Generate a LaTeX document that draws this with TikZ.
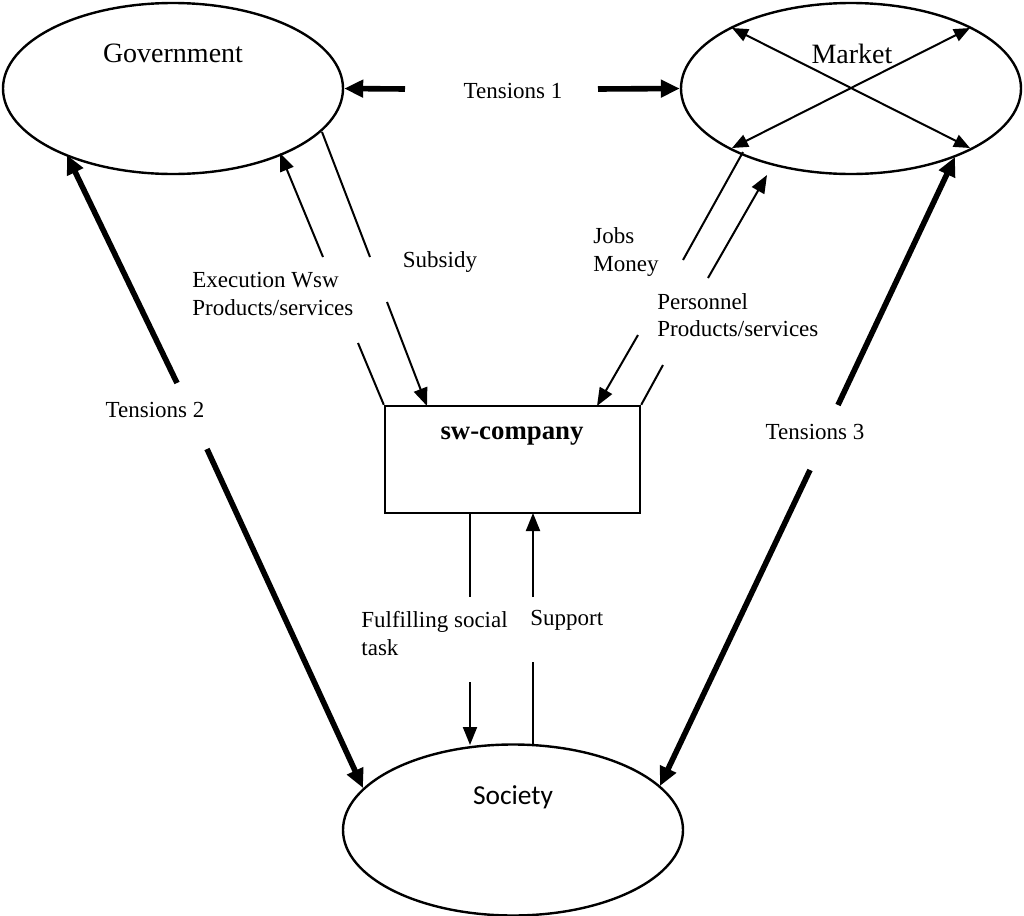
\documentclass[tikz,border=0pt]{standalone}
\usepackage{fontspec}
\setmainfont{Liberation Serif}
\newfontfamily\calibrifont{Carlito}
\usetikzlibrary{shapes.geometric, arrows.meta}
\begin{document}
\begin{tikzpicture}[x=0.5pt,y=-0.5pt,
  ovalbox/.style={ellipse, draw, line width=1.2pt, minimum width=170pt, minimum height=85.5pt, inner sep=0pt},
  flowline/.style={line width=1pt},
  flowarr/.style={flowline, -{Triangle[length=9pt,width=7pt]}},
  crossarr/.style={flowline, {Triangle[length=8pt,width=6.5pt]}-{Triangle[length=8pt,width=6.5pt]}},
  tensarr/.style={line width=2.8pt, -{Triangle[length=9.5pt,width=8.5pt]}},
  lbltext/.style={font=\fontsize{11.5}{13.6}\selectfont, inner sep=0pt, align=left},
  ttltext/.style={font=\fontsize{14}{16}\selectfont, inner sep=0pt}
]
\useasboundingbox (0,0) rectangle (1024,916);

% main nodes
\node[ovalbox] (gov) at (173,88.5) {};
\node[ovalbox] (mkt) at (851,88.5) {};
\node[ovalbox] (soc) at (513,830) {};
\node[draw, line width=1.2pt, minimum width=127.5pt, minimum height=53.5pt, inner sep=0pt] (sw) at (512.5,459.5) {};

% titles
\node[ttltext] (govt) at (173,53) {Government};
\node[ttltext] (mktt) at (852,54) {Market};
\node[font=\calibrifont\fontsize{13.7}{16}\selectfont, inner sep=0pt] (soct) at (513,797) {Society};
\node[font=\fontsize{13.4}{16}\selectfont\bfseries, inner sep=0pt] (swt) at (512,436) {sw-company};

% labels
\node[lbltext] (t1) at (513,91) {Tensions 1};
\node[lbltext] (t2) at (155,410) {Tensions 2};
\node[lbltext] (t3) at (815,432) {Tensions 3};
\node[lbltext] (sub) at (440,262) {Subsidy};
\node[lbltext, anchor=west] (exe) at (192,294) {Execution Wsw\\Products/services};
\node[lbltext, anchor=west] (jobs) at (593,252) {Jobs\\Money};
\node[lbltext, anchor=west] (pers) at (657,315.5) {Personnel\\Products/services};
\node[lbltext, anchor=west] (ful) at (361,633.5) {Fulfilling social\\task};
\node[lbltext, anchor=west] (sup) at (530,620) {Support};

% coordinates
\coordinate (a1) at (280,153); \coordinate (a2) at (323,257); \coordinate (a3) at (358,343);
\coordinate (b1) at (322,132); \coordinate (b2) at (370,257); \coordinate (b3) at (387,302); \coordinate (b4) at (427,406);
\coordinate (c1) at (743,152); \coordinate (c2) at (683,260); \coordinate (c3) at (638,335); \coordinate (c4) at (597,406);
\coordinate (d1) at (663,365); \coordinate (d2) at (708,278); \coordinate (d3) at (767,175);
\coordinate (f1) at (470,513); \coordinate (f2) at (470,597); \coordinate (f3) at (470,682); \coordinate (f4) at (470,745);
\coordinate (g1) at (533,746); \coordinate (g2) at (533,662); \coordinate (g3) at (533,597); \coordinate (g4) at (533,513);
\coordinate (m1) at (732,28); \coordinate (m2) at (970,148); \coordinate (m3) at (970,28); \coordinate (m4) at (732,148);
\coordinate (p1) at (405,89); \coordinate (p2) at (598,89);
\coordinate (q1) at (177,383); \coordinate (q2) at (67,155); \coordinate (q3) at (207,449); \coordinate (q4) at (363,788);
\coordinate (r1) at (838,405); \coordinate (r2) at (955,157); \coordinate (r3) at (810,470); \coordinate (r4) at (660,786);

% market cross
\draw[crossarr] (m1) -- (m2);
\draw[crossarr] (m3) -- (m4);

% government flows
\draw[flowline] (sw.north west) -- (a3);
\draw[flowarr] (a2) -- (a1);
\draw[flowline] (b1) -- (b2);
\draw[flowarr] (b3) -- (b4);

% market flows
\draw[flowline] (c1) -- (c2);
\draw[flowarr] (c3) -- (c4);
\draw[flowline] (sw.north east) -- (d1);
\draw[flowarr] (d2) -- (d3);

% society flows
\draw[flowline] (f1) -- (f2);
\draw[flowarr] (f3) -- (f4);
\draw[flowline] (g1) -- (g2);
\draw[flowarr] (g3) -- (g4);

% tensions
\draw[tensarr] (p1) -- (gov.east);
\draw[tensarr] (p2) -- (mkt.west);
\draw[tensarr] (q1) -- (q2);
\draw[tensarr] (q3) -- (q4);
\draw[tensarr] (r1) -- (r2);
\draw[tensarr] (r3) -- (r4);
\end{tikzpicture}
\end{document}
